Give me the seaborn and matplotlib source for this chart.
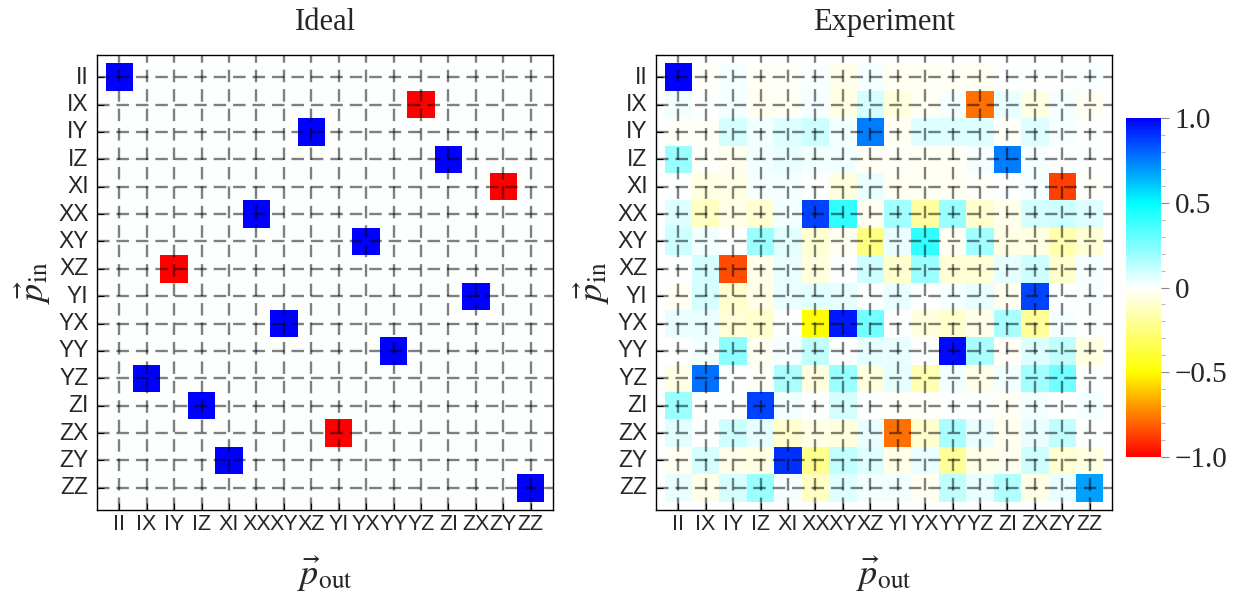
import numpy as np
import pandas as pd
import matplotlib
matplotlib.use("Agg")
import matplotlib.pyplot as plt
import seaborn as sns
from matplotlib.colors import LinearSegmentedColormap
from matplotlib.ticker import FixedLocator, MultipleLocator, FixedFormatter

sns.set_theme(style="white")
plt.rcParams["font.family"] = ["Liberation Serif", "DejaVu Serif"]
plt.rcParams["mathtext.fontset"] = "stix"
plt.rcParams["lines.scale_dashes"] = False

# ---------------- data ----------------
paulis = ["II", "IX", "IY", "IZ", "XI", "XX", "XY", "XZ",
          "YI", "YX", "YY", "YZ", "ZI", "ZX", "ZY", "ZZ"]

# ideal map: each input Pauli goes to one output Pauli with a sign
ideal_target = ["II", "YZ", "XZ", "ZI", "ZY", "XX", "YX", "IY",
                "ZX", "XY", "YY", "IX", "IZ", "YI", "XI", "ZZ"]
ideal_sign = [1, -1, 1, 1, -1, 1, 1, -1, 1, 1, 1, 1, 1, -1, 1, 1]

exp_II = [1.0, -0.01, 0.02, -0.02, -0.01, 0.01, -0.04, 0.02, -0.03, -0.02, -0.02, -0.03, 0.0, 0.0, 0.0, 0.01]
exp_IX = [0.03, 0.0, 0.02, -0.03, -0.02, 0.02, -0.06, 0.08, -0.07, -0.02, 0.02, -0.78, 0.04, -0.06, 0.02, -0.03]
exp_IY = [-0.01, -0.01, 0.08, 0.03, 0.07, 0.1, 0.03, 0.75, -0.02, 0.07, 0.07, 0.07, -0.01, 0.07, 0.02, 0.0]
exp_IZ = [0.2, -0.01, -0.03, 0.03, 0.04, 0.03, 0.03, -0.02, -0.01, -0.02, -0.02, 0.02, 0.75, 0.02, 0.0, 0.0]
exp_XI = [0.0, -0.06, -0.05, 0.02, 0.02, 0.0, -0.07, 0.04, -0.03, -0.02, -0.03, -0.01, 0.0, 0.02, -0.87, -0.01]
exp_XX = [0.07, -0.12, -0.05, -0.09, 0.03, 0.87, 0.4, -0.03, 0.18, -0.18, 0.2, -0.1, -0.04, 0.08, 0.1, 0.07]
exp_XY = [0.1, 0.03, 0.0, 0.2, 0.06, -0.08, -0.03, -0.25, 0.04, 0.4, -0.03, 0.18, -0.05, -0.06, -0.16, -0.08]
exp_XZ = [0.0, 0.08, -0.85, -0.04, 0.04, -0.07, 0.0, 0.1, -0.1, 0.2, -0.08, -0.08, 0.05, 0.1, -0.1, 0.02]
exp_YI = [-0.03, 0.08, -0.1, -0.05, 0.04, 0.06, 0.05, 0.0, 0.04, 0.0, 0.02, 0.04, -0.03, 0.86, 0.0, 0.01]
exp_YX = [0.04, 0.04, -0.08, -0.1, 0.0, -0.5, 0.95, 0.28, 0.0, -0.07, -0.1, -0.04, 0.17, -0.2, 0.02, 0.0]
exp_YY = [0.0, 0.03, 0.22, -0.03, 0.02, 0.12, 0.0, 0.05, 0.04, 0.0, 0.98, 0.17, -0.02, 0.07, 0.12, -0.06]
exp_YZ = [-0.05, 0.78, 0.0, -0.01, 0.17, -0.07, 0.2, -0.07, 0.05, -0.15, 0.03, -0.04, 0.03, 0.18, 0.28, 0.0]
exp_ZI = [0.2, 0.0, 0.0, 0.87, 0.03, 0.0, 0.08, 0.0, -0.01, -0.01, 0.0, 0.0, -0.02, 0.03, 0.0, 0.02]
exp_ZX = [0.06, 0.0, 0.1, 0.05, -0.1, -0.05, -0.07, 0.04, -0.78, -0.1, 0.17, 0.04, -0.03, 0.04, 0.12, 0.0]
exp_ZY = [-0.03, 0.08, -0.04, -0.06, 0.9, -0.22, 0.12, 0.07, -0.04, 0.04, -0.2, -0.05, -0.03, 0.1, -0.09, -0.06]
exp_ZZ = [0.04, -0.04, 0.08, 0.2, 0.02, -0.12, 0.07, 0.03, 0.03, -0.03, 0.12, 0.04, 0.15, -0.05, 0.04, 0.68]

cbar_ticks = [-1.0, -0.5, 0.0, 0.5, 1.0]
cbar_labels = ["\u22121.0", "\u22120.5", "0", "0.5", "1.0"]

# ---------------- tables ----------------
ideal = pd.DataFrame(0.0, index=paulis, columns=paulis)
for pin, pout, s in zip(paulis, ideal_target, ideal_sign):
    ideal.loc[pin, pout] = s

experiment = pd.DataFrame(
    [exp_II, exp_IX, exp_IY, exp_IZ, exp_XI, exp_XX, exp_XY, exp_XZ,
     exp_YI, exp_YX, exp_YY, exp_YZ, exp_ZI, exp_ZX, exp_ZY, exp_ZZ],
    index=paulis, columns=paulis)

cmap = LinearSegmentedColormap.from_list(
    "mma", [(0.0, "#ff0000"), (0.125, "#ff8000"), (0.25, "#ffff00"),
            (0.5, "#ffffff"), (0.75, "#00ffff"), (1.0, "#0000ff")])

# ---------------- figure ----------------
W, H = 1247, 604
fig = plt.figure(figsize=(W / 100, H / 100), dpi=100)
bottom = 1 - 510 / H
height = 455 / H
ax1 = fig.add_axes([97 / W, bottom, 456 / W, height])
ax2 = fig.add_axes([656 / W, bottom, 456 / W, height])
cax = fig.add_axes([1126 / W, 1 - 457 / H, 35 / W, 339 / H])

sans = ["Liberation Sans", "DejaVu Sans"]
n = len(paulis)
pad = 0.31
for ax, df, title, cb in [(ax1, ideal, "Ideal", False), (ax2, experiment, "Experiment", True)]:
    sns.heatmap(df, ax=ax, cmap=cmap, vmin=-1, vmax=1, cbar=cb,
                cbar_ax=cax if cb else None, square=False,
                xticklabels=paulis, yticklabels=paulis, linewidths=0)
    ax.set_xlim(-pad, n + pad)
    ax.set_ylim(n + pad, -pad)
    for sp in ax.spines.values():
        sp.set_visible(True)
        sp.set_color("black")
        sp.set_linewidth(1.0)
    centers = np.arange(n) + 0.5
    ax.set_xticks(centers)
    ax.set_yticks(centers)
    ax.set_xticklabels(paulis, rotation=0, family=sans, fontsize=15.5)
    ax.set_yticklabels(paulis, rotation=0, family=sans, fontsize=16.5)
    ax.tick_params(axis="both", which="major", direction="in", length=5, width=0.8,
                   color="black", bottom=True, left=True, top=False, right=False)
    ax.tick_params(axis="x", pad=3)
    ax.tick_params(axis="y", pad=6)
    ax.set_axisbelow(False)
    ax.grid(True, color="black", alpha=0.5, linewidth=1.7, linestyle=(0, (9, 5)))
    ax.set_title(title, fontsize=22, pad=18)
    ax.set_xlabel(r"$\vec{p}_{\mathrm{out}}$", fontsize=26, labelpad=14)
    ax.set_ylabel(r"$\vec{p}_{\mathrm{in}}$", fontsize=26, labelpad=4)

cb = ax2.collections[0].colorbar
cb.outline.set_visible(False)
cax.yaxis.set_major_locator(FixedLocator(cbar_ticks))
cax.yaxis.set_major_formatter(FixedFormatter(cbar_labels))
cax.yaxis.set_minor_locator(MultipleLocator(0.1))
cax.tick_params(which="major", length=6, width=0.8, color="#888888", labelsize=21, pad=4)
cax.tick_params(which="minor", length=3, width=0.6, color="#aaaaaa")
cax.yaxis.set_ticks_position("right")

fig.savefig("out.png", dpi=100)
